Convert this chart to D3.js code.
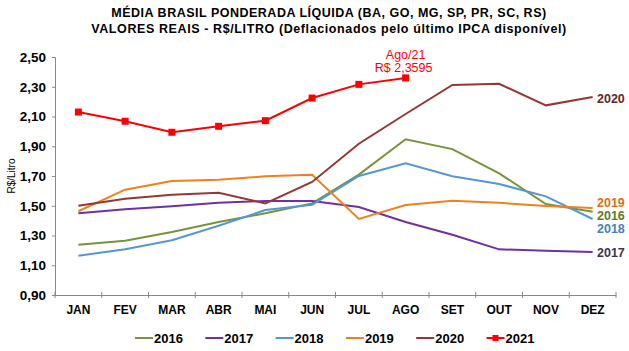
<!DOCTYPE html>
<html>
<head>
<meta charset="utf-8">
<script src="https://cdn.jsdelivr.net/npm/d3@7"></script>
<style>
  body { margin: 0; background: #fff; }
  svg { font-family: "Liberation Sans", Arial, sans-serif; }
</style>
</head>
<body>
<div id="chart"></div>
<script>
// meses e valores (R$/litro)
const months = ['JAN', 'FEV', 'MAR', 'ABR', 'MAI', 'JUN', 'JUL', 'AGO', 'SET', 'OUT', 'NOV', 'DEZ'];
const yTicks = [0.9, 1.1, 1.3, 1.5, 1.7, 1.9, 2.1, 2.3, 2.5];

const v2016 = [1.238, 1.265, 1.324, 1.391, 1.449, 1.516, 1.709, 1.947, 1.881, 1.718, 1.512, 1.460];
const v2017 = [1.449, 1.476, 1.496, 1.520, 1.532, 1.532, 1.492, 1.391, 1.305, 1.207, 1.198, 1.189];
const v2018 = [1.164, 1.207, 1.268, 1.366, 1.471, 1.507, 1.700, 1.785, 1.698, 1.646, 1.563, 1.411];
const v2019 = [1.463, 1.608, 1.666, 1.675, 1.698, 1.709, 1.411, 1.505, 1.534, 1.520, 1.498, 1.485];
const v2020 = [1.500, 1.547, 1.574, 1.588, 1.516, 1.660, 1.917, 2.117, 2.312, 2.320, 2.175, 2.231];
const v2021 = [2.130, 2.068, 1.994, 2.034, 2.072, 2.224, 2.316, 2.3595];

const series = [
    {name: '2016', values: v2016, color: '#77933c', labelColor: '#5f7a2c', labelY: 215},
    {name: '2017', values: v2017, color: '#7030a0', labelColor: '#3f3151', labelY: 252},
    {name: '2018', values: v2018, color: '#5596d6', labelColor: '#4a7ebb', labelY: 228},
    {name: '2019', values: v2019, color: '#f0801e', labelColor: '#e46c0a', labelY: 202},
    {name: '2020', values: v2020, color: '#953735', labelColor: '#632523', labelY: 98},
    {name: '2021', values: v2021, color: '#ff0000', marker: true}
];

const W = 629, H = 351;
const svg = d3.select('#chart').append('svg').attr('width', W).attr('height', H);

// area do grafico
const x = d3.scaleBand().domain(months).range([55, 616]);
const y = d3.scaleLinear().domain([0.9, 2.5]).range([295, 57]);
const cx = function (m) { return x(m) + x.bandwidth() / 2; };

// titulo
svg.append('text').attr('x', 329).attr('y', 17).attr('text-anchor', 'middle')
    .attr('font-size', 12.5).attr('font-weight', 'bold').attr('letter-spacing', 0.5)
    .text('MÉDIA BRASIL PONDERADA LÍQUIDA  (BA, GO, MG, SP, PR, SC, RS)');
svg.append('text').attr('x', 329).attr('y', 33).attr('text-anchor', 'middle')
    .attr('font-size', 12.5).attr('font-weight', 'bold').attr('letter-spacing', 0.6)
    .text('VALORES REAIS - R$/LITRO (Deflacionados pelo último IPCA disponível)');

// eixo y
const yAxis = svg.append('g').attr('transform', 'translate(55,0)')
    .call(d3.axisLeft(y).tickValues(yTicks).tickSize(3)
        .tickFormat(function (d) { return d3.format('.2f')(d).replace('.', ','); }));
yAxis.select('.domain').attr('stroke', '#888');
yAxis.selectAll('.tick line').attr('stroke', '#888');
yAxis.selectAll('text').attr('font-size', 13.5).attr('font-weight', 'bold')
    .attr('fill', '#000').attr('font-family', '"Liberation Sans", Arial, sans-serif').attr('x', -9);

svg.append('text').attr('transform', 'translate(15,176) rotate(-90)')
    .attr('text-anchor', 'middle').attr('font-size', 10).text('R$/Litro');

// eixo x
const xAxis = svg.append('g').attr('transform', 'translate(0,295)')
    .call(d3.axisBottom(x).tickSize(0).tickSizeOuter(0));
xAxis.select('.domain').attr('stroke', '#888');
xAxis.selectAll('text').attr('font-size', 12).attr('font-weight', 'bold')
    .attr('fill', '#000').attr('font-family', '"Liberation Sans", Arial, sans-serif').attr('dy', '1.35em');
// marcas entre os meses
const bounds = months.map(function (m) { return x(m); }).concat([x.range()[1]]);
svg.append('g').selectAll('line').data(bounds).enter().append('line')
    .attr('x1', function (d) { return d; }).attr('x2', function (d) { return d; })
    .attr('y1', 292).attr('y2', 298).attr('stroke', '#888');

// linhas
const line = d3.line()
    .x(function (d, i) { return cx(months[i]); })
    .y(function (d) { return y(d); });

series.forEach(function (s) {
    svg.append('path').datum(s.values)
        .attr('d', line).attr('fill', 'none')
        .attr('stroke', s.color).attr('stroke-width', 2);
    if (s.marker) {
        svg.append('g').selectAll('rect').data(s.values).enter().append('rect')
            .attr('x', function (d, i) { return cx(months[i]) - 3.5; })
            .attr('y', function (d) { return y(d) - 3.5; })
            .attr('width', 7).attr('height', 7).attr('fill', s.color);
    }
    if (s.labelY) {
        svg.append('text').attr('x', 597).attr('y', s.labelY + 4.5)
            .attr('font-size', 12.5).attr('font-weight', 'bold')
            .attr('fill', s.labelColor).text(s.name);
    }
});

// anotacao agosto/21
const last = v2021[v2021.length - 1];
svg.append('text').attr('x', cx('AGO')).attr('y', 59).attr('text-anchor', 'middle')
    .attr('font-size', 12.5).attr('fill', '#ff0000').text('Ago/21');
svg.append('text').attr('x', cx('AGO') - 2).attr('y', 72).attr('text-anchor', 'middle')
    .attr('font-size', 12.5).attr('fill', '#ff0000')
    .text('R$ ' + d3.format('.4f')(last).replace('.', ','));

// legenda
const legend = svg.append('g').selectAll('g').data(series).enter().append('g')
    .attr('transform', function (d, i) { return 'translate(' + (135 + i * 70.3) + ',338)'; });
legend.append('line').attr('x1', 0).attr('x2', 18).attr('y1', 0).attr('y2', 0)
    .attr('stroke', function (d) { return d.color; }).attr('stroke-width', 2);
legend.filter(function (d) { return d.marker; }).append('rect')
    .attr('x', 6).attr('y', -3).attr('width', 6).attr('height', 6)
    .attr('fill', function (d) { return d.color; });
legend.append('text').attr('x', 19).attr('y', 4.5)
    .attr('font-size', 13).attr('font-weight', 'bold').text(function (d) { return d.name; });
</script>
</body>
</html>
